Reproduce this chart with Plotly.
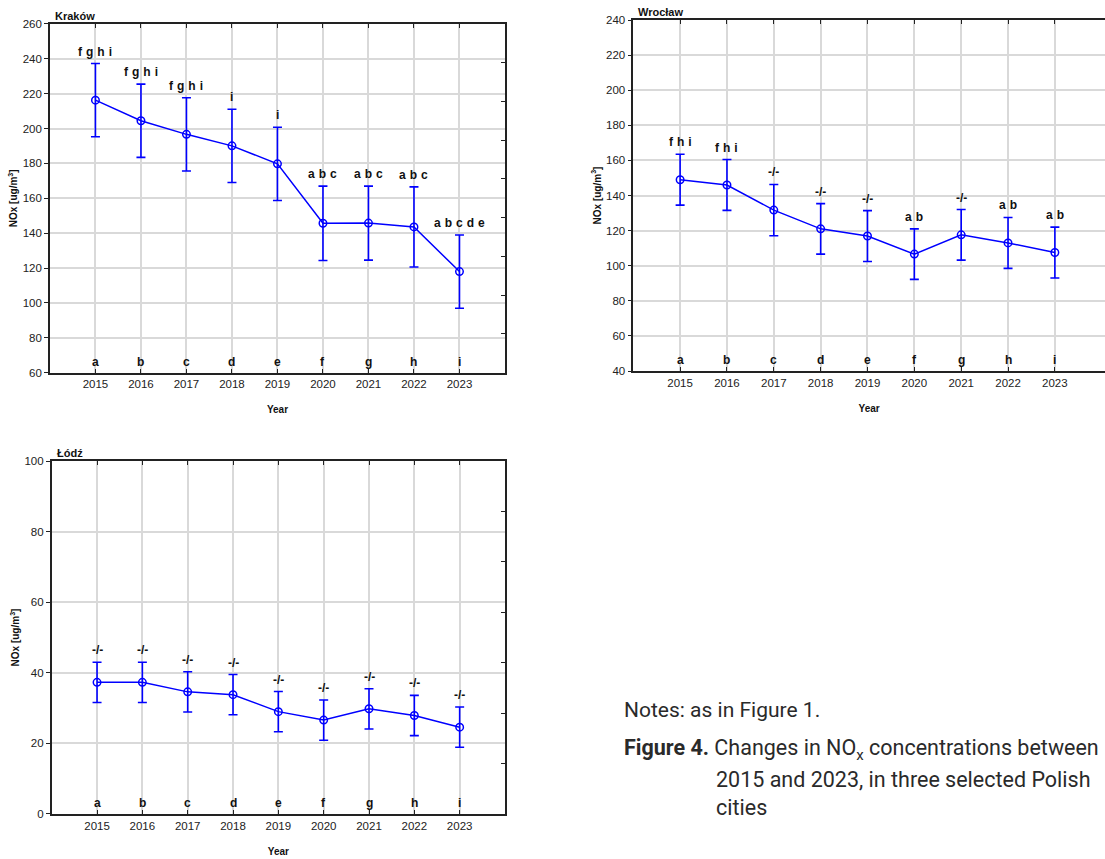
import plotly.graph_objects as go

years = [2015, 2016, 2017, 2018, 2019, 2020, 2021, 2022, 2023]
group_letters = ["a", "b", "c", "d", "e", "f", "g", "h", "i"]

krakow_mean = [216.3, 204.5, 196.7, 190.1, 179.8, 145.7, 145.8, 143.6, 118.0]
krakow_err = [21.0, 21.0, 21.0, 21.0, 21.0, 21.3, 21.2, 23.0, 21.0]
krakow_sig = ["f g h i", "f g h i", "f g h i", "i", "i", "a b c", "a b c", "a b c", "a b c d e"]

wroclaw_mean = [149.0, 146.0, 131.7, 121.0, 116.9, 106.6, 117.6, 113.0, 107.5]
wroclaw_err = [14.5, 14.5, 14.6, 14.4, 14.5, 14.4, 14.4, 14.5, 14.5]
wroclaw_sig = ["f h i", "f h i", "-/-", "-/-", "-/-", "a b", "-/-", "a b", "a b"]

lodz_mean = [37.3, 37.3, 34.6, 33.8, 29.0, 26.6, 29.8, 27.9, 24.6]
lodz_err = [5.7, 5.7, 5.7, 5.7, 5.7, 5.7, 5.7, 5.7, 5.7]
lodz_sig = ["-/-", "-/-", "-/-", "-/-", "-/-", "-/-", "-/-", "-/-", "-/-"]

panels = [
    # name, mean, err, sig, xaxis, yaxis, y range, x range, domain x, domain y, right-tick parts
    ("Kraków", krakow_mean, krakow_err, krakow_sig, "x", "y", [60, 260], [2014, 2024],
     [0.0452, 0.457], [0.5661, 0.9721], 9),
    ("Wrocław", wroclaw_mean, wroclaw_err, wroclaw_sig, "x2", "y2", [40, 240], [2014, 2024.07],
     [0.5731, 1.0], [0.5681, 0.9767], None),
    ("Łódź", lodz_mean, lodz_err, lodz_sig, "x3", "y3", [0, 100], [2014, 2024],
     [0.0468, 0.457], [0.0524, 0.4633], 7),
]

BLUE = "#0000ff"
GRID = "#d9d9d9"
AXC = "#222222"
FONT = "Liberation Sans, Arial, sans-serif"

fig = go.Figure()
layout = dict(
    width=1105, height=859, margin=dict(l=0, r=0, t=0, b=0),
    paper_bgcolor="white", plot_bgcolor="white", showlegend=False,
    font=dict(family=FONT, size=11, color="#222222"),
)
annotations = []
extra_axis_idx = 4

for (name, mean, err, sig, xa, ya, yr, xr, dx, dy, parts) in panels:
    fig.add_trace(go.Scatter(
        x=years, y=mean, mode="lines+markers", xaxis=xa, yaxis=ya,
        line=dict(color=BLUE, width=1.5),
        marker=dict(symbol="circle-open", size=7.5, color=BLUE, line=dict(width=1.5, color=BLUE)),
        error_y=dict(type="data", array=err, visible=True, color=BLUE, thickness=1.6, width=4.5),
        hoverinfo="x+y",
    ))
    xkey = "xaxis" + xa[1:]
    ykey = "yaxis" + ya[1:]
    layout[xkey] = dict(
        domain=dx, anchor=ya, range=xr, tickvals=years, ticktext=[str(v) for v in years],
        showgrid=True, gridcolor=GRID, gridwidth=1.5, zeroline=False,
        showline=True, linecolor=AXC, linewidth=1.5, mirror="ticks",
        ticks="inside", ticklen=4, tickcolor=AXC, tickwidth=1.2,
        tickfont=dict(size=11.5, color="#222222"), automargin=False,
        title=dict(text="<b>Year</b>", font=dict(size=10, color="#111111"), standoff=17),
    )
    layout[ykey] = dict(
        domain=dy, anchor=xa, range=yr, tickvals=list(range(yr[0], yr[1] + 1, 20)),
        showgrid=True, gridcolor=GRID, gridwidth=1.5, zeroline=False,
        showline=True, linecolor=AXC, linewidth=1.5,
        mirror=(parts is not None),
        ticks="outside", ticklen=4, tickcolor=AXC, tickwidth=1.2,
        tickfont=dict(size=11.5, color="#222222"), automargin=False,
        title=dict(text="<b>NOx [ug/m<sup>3</sup>]</b>", font=dict(size=10, color="#111111"), standoff=3),
    )
    if parts:
        step = (yr[1] - yr[0]) / parts
        tv = [yr[0] + k * step for k in range(1, parts)]
        ok = "yaxis%d" % extra_axis_idx
        layout[ok] = dict(
            overlaying=ya, anchor=xa, side="right", range=yr, tickvals=tv,
            showticklabels=False, showgrid=False, zeroline=False, showline=False,
            ticks="inside", ticklen=4, tickcolor=AXC, tickwidth=1.2, automargin=False,
        )
        fig.add_trace(go.Scatter(x=[years[0]], y=[None], xaxis=xa, yaxis="y%d" % extra_axis_idx,
                                 mode="markers", showlegend=False, hoverinfo="skip"))
        extra_axis_idx += 1

    # panel title
    annotations.append(dict(
        text="<b>%s</b>" % name, xref=xa + " domain", yref=ya + " domain", x=0, y=1,
        xanchor="left", yanchor="bottom", xshift=3, yshift=0, showarrow=False,
        font=dict(size=11, color="#111111", family=FONT),
    ))
    # significance letters above error bars
    for yv, m, e, s in zip(years, mean, err, sig):
        annotations.append(dict(
            text="<b>%s</b>" % s.replace(" ", "\u2004"), xref=xa, yref=ya, x=yv, y=m + e,
            xanchor="center", yanchor="bottom", yshift=3, showarrow=False,
            font=dict(size=12, color="#111111", family=FONT),
        ))
    # group letters at the bottom
    for yv, g in zip(years, group_letters):
        annotations.append(dict(
            text="<b>%s</b>" % g, xref=xa, yref=ya + " domain", x=yv, y=0,
            xanchor="center", yanchor="bottom", yshift=2, showarrow=False,
            font=dict(size=12, color="#111111", family=FONT),
        ))

CAP = "Roboto, sans-serif"
CAPC = "#2a2a2a"
annotations += [
    dict(text="Notes: as in Figure 1.", xref="paper", yref="paper", x=0.5629, y=0.1735,
         xanchor="left", yanchor="middle", showarrow=False,
         font=dict(size=21, color=CAPC, family=CAP)),
    dict(text="<b>Figure 4.</b> Changes in NO<sub>x</sub> concentrations between", xref="paper", yref="paper",
         x=0.5629, y=0.1269, xanchor="left", yanchor="middle", showarrow=False,
         font=dict(size=21.5, color=CAPC, family=CAP)),
    dict(text="2015 and 2023, in three selected Polish", xref="paper", yref="paper",
         x=0.6462, y=0.0931, xanchor="left", yanchor="middle", showarrow=False,
         font=dict(size=21.5, color=CAPC, family=CAP)),
    dict(text="cities", xref="paper", yref="paper",
         x=0.6462, y=0.0594, xanchor="left", yanchor="middle", showarrow=False,
         font=dict(size=21.5, color=CAPC, family=CAP)),
]
layout["annotations"] = annotations
fig.update_layout(**layout)
fig.write_html("out.html")
